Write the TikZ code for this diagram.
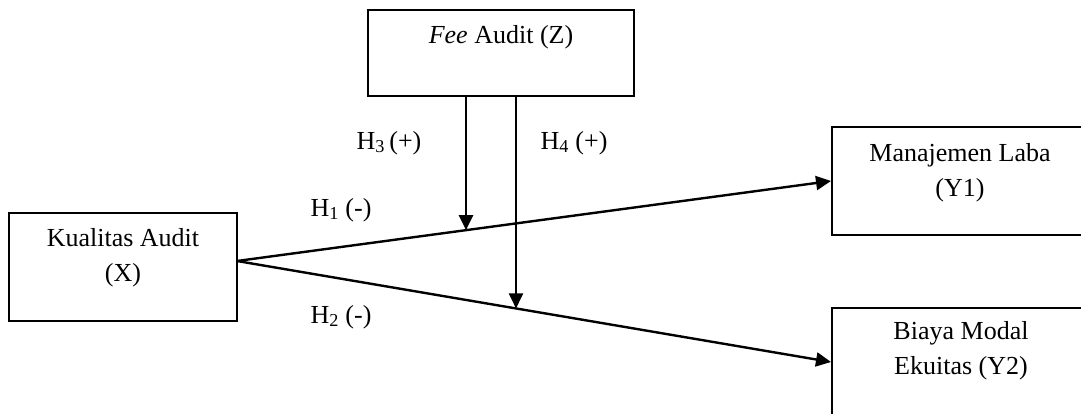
\documentclass[tikz,border=0pt]{standalone}
\usepackage{fontspec}
\setmainfont{Liberation Serif}
\usetikzlibrary{arrows.meta,calc}
\begin{document}
\begin{tikzpicture}[x=1pt,y=-1pt,
  box/.style={draw=black,line width=1.6pt,rectangle,inner sep=0pt},
  txt/.style={font=\fontsize{26}{35}\selectfont,align=center,inner sep=0pt},
  lbl/.style={font=\fontsize{26}{30}\selectfont,inner sep=0pt},
  arr/.style={line width=2.4pt,-{Triangle[length=15pt,width=14pt]}}]
\useasboundingbox (0,0) rectangle (1081,414);
\clip (0,0) rectangle (1081,414);
% boxes
\node[box,minimum width=266pt,minimum height=86pt] (Z) at (501,53) {};
\node[box,minimum width=228pt,minimum height=108pt] (X) at (123,267) {};
\node[box,minimum width=258pt,minimum height=108pt,anchor=west] (Y1) at (831,181) {};
\node[box,minimum width=258pt,minimum height=108pt,anchor=west] (Y2) at (831,362) {};
% texts
\node[txt] (Zt) at (501,37) {\textit{Fee} Audit (Z)};
\node[txt] (Xt) at (123,257.5) {Kualitas Audit\\(X)};
\node[txt] (Y1t) at (960,172.5) {Manajemen Laba\\(Y1)};
\node[txt] (Y2t) at (961,351) {Biaya Modal\\Ekuitas (Y2)};
% connectors
\coordinate (S) at (237,261);
\draw[arr] (S) -- (Y1.west);
\draw[arr] (S) -- (Y2.west);
\coordinate (P1) at ($(S)!{(466-237)/(831-237)}!(Y1.west)$);
\coordinate (P2) at ($(S)!{(516-237)/(831-237)}!(Y2.west)$);
\draw[arr] (Z.south -| P1) -- (P1);
\draw[arr] (Z.south -| P2) -- (P2);
% labels
\node[lbl] (H3) at (389,143) {H\textsubscript{3}\,(+)};
\node[lbl] (H4) at (574,143) {H\textsubscript{4} (+)};
\node[lbl] (H1) at (341,210) {H\textsubscript{1} (-)};
\node[lbl] (H2) at (341,317) {H\textsubscript{2} (-)};
\end{tikzpicture}
\end{document}
